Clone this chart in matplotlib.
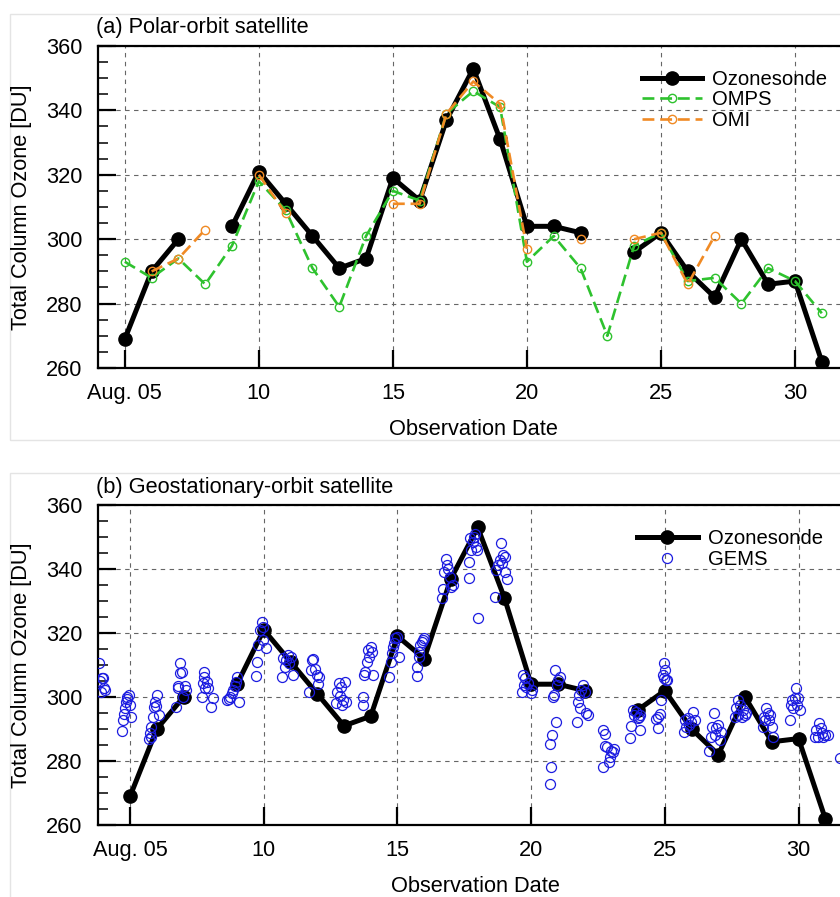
import numpy as np
import matplotlib
matplotlib.use("Agg")
import matplotlib.pyplot as plt
from matplotlib.patches import Rectangle

plt.rcParams['font.family'] = ['Liberation Sans', 'DejaVu Sans']

nan = np.nan
days = list(range(5, 32))
sonde = [269, 290, 300, nan, 304, 321, 311, 301, 291, 294, 319, 312, 337, 353,
         331, 304, 304, 302, nan, 296, 302, 290, 282, 300, 286, 287, 262]
omps = [293, 288, 294, 286, 298, 318, 309, 291, 279, 301, 315, 312, 339, 346,
        341, 293, 301, 291, 270, 298, 302, 287, 288, 280, 291, 287, 277]
omi = [nan, 290, 294, 303, nan, 320, 308, nan, nan, nan, 311, 311, 339, 349,
       342, 297, nan, 300, nan, 300, 302, 286, 301, nan, nan, nan, nan]

gems_day = [
    3.85, 3.87, 3.90, 3.95, 3.98, 4.02, 4.05,
    4.70, 4.73, 4.76, 4.80, 4.85, 4.88, 4.90, 4.95, 5.00, 5.05,
    5.70, 5.75, 5.78, 5.80, 5.85, 5.88, 5.92, 5.97, 6.00, 6.07,
    6.73, 6.78, 6.80, 6.85, 6.88, 6.93, 6.98, 7.05, 7.10,
    7.69, 7.72, 7.77, 7.78, 7.80, 7.88, 7.90, 8.03, 8.10,
    8.64, 8.70, 8.74, 8.80, 8.86, 8.93, 8.95, 9.00, 9.09,
    9.71, 9.74, 9.80, 9.86, 9.94, 9.96, 9.98, 10.08,
    10.67, 10.73, 10.79, 10.82, 10.91, 10.96, 11.00, 11.08,
    11.70, 11.75, 11.79, 11.85, 11.92, 11.98, 12.02, 12.08,
    12.70, 12.75, 12.80, 12.85, 12.90, 12.93, 12.98, 13.02, 13.08,
    13.70, 13.72, 13.75, 13.80, 13.85, 13.90, 13.95, 14.00, 14.05, 14.10,
    14.69, 14.74, 14.78, 14.82, 14.86, 14.92, 14.98, 15.07,
    15.72, 15.74, 15.80, 15.82, 15.86, 15.92, 15.95, 15.99,
    16.65, 16.70, 16.75, 16.80, 16.85, 16.90, 16.95, 17.02, 17.06,
    17.68, 17.69, 17.70, 17.75, 17.81, 17.87, 17.90, 17.93, 17.99, 18.01,
    18.66, 18.70, 18.76, 18.83, 18.89, 18.91, 18.95, 19.01, 19.04, 19.08,
    19.64, 19.70, 19.74, 19.76, 19.82, 19.90, 19.98, 20.04,
    20.70, 20.72, 20.74, 20.77, 20.80, 20.84, 20.88, 20.94, 20.96, 21.02, 21.07,
    21.70, 21.76, 21.80, 21.84, 21.88, 21.94, 22.00, 22.07, 22.12,
    22.69, 22.70, 22.75, 22.76, 22.83, 22.90, 22.95, 23.00, 23.05, 23.10,
    23.69, 23.75, 23.82, 23.86, 23.92, 23.98, 24.04, 24.06, 24.08,
    24.66, 24.75, 24.76, 24.81, 24.87, 24.94, 24.95, 24.96, 25.00, 25.04, 25.09,
    25.73, 25.76, 25.80, 25.86, 25.92, 25.99, 26.05, 26.12,
    26.65, 26.72, 26.77, 26.83, 26.88, 26.93, 26.99, 27.05, 27.10,
    27.62, 27.68, 27.74, 27.75, 27.80, 27.87, 27.93, 28.00, 28.05,
    28.68, 28.72, 28.74, 28.80, 28.86, 28.89, 28.93, 28.99, 29.05,
    29.67, 29.71, 29.74, 29.80, 29.86, 29.92, 29.93, 29.99, 30.05,
    30.61, 30.67, 30.73, 30.76, 30.84, 30.86, 30.93, 30.99, 31.11,
    31.55,
]
gems_val = [
    310.5, 305.0, 301.5, 305.8, 306.0, 302.8, 302.3,
    289.5, 292.8, 294.7, 296.5, 298.5, 299.3, 300.1, 300.6, 297.5, 293.6,
    286.8, 288.6, 287.6, 290.7, 293.8, 297.0, 298.5, 297.2, 300.6, 294.4,
    297.0, 302.7, 303.4, 307.4, 310.7, 307.9, 300.1, 303.4, 302.2,
    300.1, 304.3, 306.3, 307.9, 302.7, 304.8, 302.7, 297.0, 299.6,
    299.0, 299.3, 300.1, 301.1, 302.2, 303.4, 304.8, 306.3, 298.5,
    306.6, 311.0, 316.2, 320.9, 323.5, 322.0, 317.8, 315.2,
    306.1, 312.1, 309.5, 311.6, 313.1, 310.5, 312.6, 306.9,
    301.6, 308.4, 311.6, 311.8, 308.9, 306.9, 304.0, 306.1,
    298.0, 301.6, 304.3, 300.3, 303.2, 297.5, 299.0, 304.8, 298.5,
    297.5, 300.1, 306.9, 307.9, 311.0, 314.7, 312.6, 315.7, 314.2, 306.9,
    306.4, 311.0, 313.6, 315.7, 316.8, 318.3, 318.9, 312.6,
    306.7, 309.5, 314.2, 312.6, 316.2, 317.3, 317.8, 318.5,
    330.8, 333.9, 339.0, 343.2, 341.1, 340.0, 337.5, 334.4, 335.0,
    337.1, 342.3, 349.6, 346.0, 348.5, 350.1, 350.8, 347.0, 345.9, 324.6,
    331.4, 339.7, 341.3, 342.8, 348.0, 341.8, 344.4, 343.9, 339.2, 336.9,
    301.7, 306.9, 303.8, 305.8, 303.2, 304.3, 301.1, 302.2,
    285.2, 272.7, 278.2, 288.1, 300.1, 300.6, 308.4, 292.3, 303.8, 305.3, 306.4,
    292.3, 298.5, 300.6, 296.5, 302.2, 303.8, 301.7, 294.9, 294.4,
    289.7, 278.2, 288.4, 284.7, 284.3, 279.8, 281.4, 283.2, 282.9, 283.6,
    287.1, 290.9, 295.9, 294.4, 295.4, 293.3, 293.8, 294.4, 289.7,
    293.0, 293.8, 290.2, 294.7, 299.1, 306.9, 305.8, 310.5, 308.4, 305.3, 305.3,
    289.2, 292.8, 290.7, 293.3, 291.2, 292.3, 295.4, 292.8,
    283.0, 287.5, 290.7, 294.9, 288.1, 290.2, 291.3, 286.5, 289.0,
    293.9, 296.5, 299.1, 294.4, 297.5, 293.9, 296.0, 294.4, 294.9,
    290.7, 293.9, 292.8, 296.5, 294.9, 292.8, 294.4, 290.7, 287.6,
    292.8, 297.5, 299.1, 296.5, 299.6, 302.7, 297.5, 299.6, 296.0,
    287.6, 289.7, 287.6, 291.8, 290.2, 288.6, 287.6, 288.1, 288.1,
    281.0,
]

xticks = [5, 10, 15, 20, 25, 30]
xticklabels = ['Aug. 05', '10', '15', '20', '25', '30']
yticks = [260, 280, 300, 320, 340, 360]

W, H = 840, 897
fig = plt.figure(figsize=(W / 100, H / 100), dpi=100)

FS = 15.7
GREEN = '#2ec22e'
ORANGE = '#f08a24'
BLUE = '#1c1ce0'


def px_axes(l, t, r, b):
    return [l / W, 1 - b / H, (r - l) / W, (b - t) / H]


def style(ax, xmin, xmax):
    ax.set_xlim(xmin, xmax)
    ax.set_ylim(260, 360)
    ax.set_xticks(xticks)
    ax.set_xticklabels(xticklabels)
    ax.set_yticks(yticks)
    ax.set_yticks(np.arange(260, 361, 5), minor=True)
    ax.tick_params(axis='both', which='major', direction='in', length=13,
                   width=1.6, labelsize=FS, top=False, right=False)
    ax.tick_params(axis='x', which='major', pad=11)
    ax.tick_params(axis='y', which='major', pad=11)
    ax.tick_params(axis='y', which='minor', direction='in', length=7,
                   width=1.1, right=False)
    ax.tick_params(axis='x', which='minor', bottom=False)
    for s in ax.spines.values():
        s.set_linewidth(1.6)
    ax.grid(True, which='major', color='#666666', lw=0.8,
            linestyle=(0, (4, 4)))
    ax.set_axisbelow(True)


# frames around panels
fig.patches.append(Rectangle((10 / W, 1 - 440 / H), 1.0, 426 / H,
                             transform=fig.transFigure, fill=False,
                             edgecolor='#e4e4e4', lw=1))
fig.patches.append(Rectangle((10 / W, 1 - 905 / H), 1.0, 432 / H,
                             transform=fig.transFigure, fill=False,
                             edgecolor='#e4e4e4', lw=1))

# ---- panel (a)
ax1 = fig.add_axes(px_axes(98, 46, 848.6, 368))
style(ax1, 4.0, 32.0)
ax1.plot(days, sonde, color='black', lw=3.6, marker='o', ms=9.5,
         label='Ozonesonde', zorder=3)
ax1.plot(days, omps, color=GREEN, lw=1.9, ls=(0, (4.5, 2.2)), marker='o',
         ms=6, mfc='none', mew=1.0, label='OMPS', zorder=4)
ax1.plot(days, omi, color=ORANGE, lw=1.9, ls=(0, (4.5, 2.2)), marker='o',
         ms=6, mfc='none', mew=1.0, label='OMI', zorder=5)
ax1.set_title('(a) Polar-orbit satellite', loc='left', fontsize=FS, pad=9,
              x=-0.002)
leg1 = ax1.legend(loc='upper left', bbox_to_anchor=(642 / W, 1 - 70 / H),
                  bbox_transform=fig.transFigure, frameon=False,
                  fontsize=14.6, handlelength=2.95, handletextpad=0.5,
                  labelspacing=0.07, borderpad=0, borderaxespad=0,
                  numpoints=1)
fig.text(22 / W, 1 - 207 / H, 'Total Column Ozone [DU]', rotation=90,
         ha='center', va='center', fontsize=FS)
fig.text(473 / W, 1 - 429 / H, 'Observation Date', ha='center',
         va='center', fontsize=FS)

# ---- panel (b)
ax2 = fig.add_axes(px_axes(98, 505, 852, 825))
style(ax2, 3.8, 32.0)
ax2.plot(days, sonde, color='black', lw=3.6, marker='o', ms=9.5,
         label='Ozonesonde', zorder=3)
ax2.plot(gems_day, gems_val, ls='none', marker='o', ms=7.2, mfc='none',
         mec=BLUE, mew=0.9, label='GEMS', zorder=4)
ax2.set_title('(b) Geostationary-orbit satellite', loc='left', fontsize=FS,
              pad=9, x=-0.002)
leg2 = ax2.legend(loc='upper left', bbox_to_anchor=(637 / W, 1 - 529 / H),
                  bbox_transform=fig.transFigure, frameon=False,
                  fontsize=14.6, handlelength=3.0, handletextpad=0.5,
                  labelspacing=0.1, borderpad=0, borderaxespad=0,
                  numpoints=1)
fig.text(22 / W, 1 - 665 / H, 'Total Column Ozone [DU]', rotation=90,
         ha='center', va='center', fontsize=FS)
fig.text(475 / W, 1 - 886 / H, 'Observation Date', ha='center',
         va='center', fontsize=FS)

fig.savefig('out.png', dpi=100)
